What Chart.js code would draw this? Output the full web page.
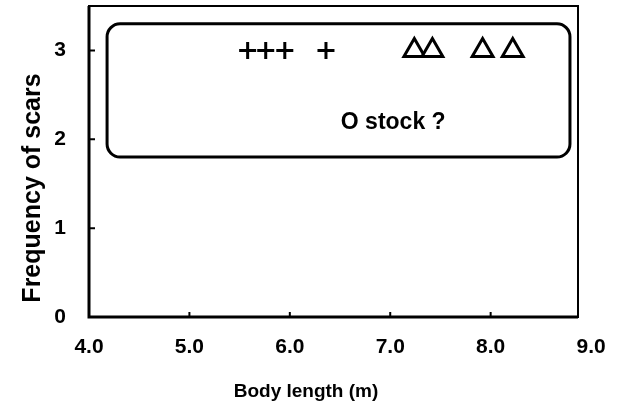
<!DOCTYPE html>
<html>
<head>
<meta charset="utf-8">
<script src="https://cdn.jsdelivr.net/npm/chart.js@4"></script>
<style>
  html, body { margin: 0; padding: 0; background: #fff; }
  #wrap { width: 621px; height: 407px; }
</style>
</head>
<body>
<div id="wrap"><canvas id="scarChart"></canvas></div>
<script>
// body length (m) of animals with 3 scars
const plusLengths = [5.58, 5.76, 5.95, 6.36];
const triangleLengths = [7.24, 7.42, 7.92, 8.22];
const scarFrequency = 3;

const xTickValues = [4, 5, 6, 7, 8, 9];
const yTickValues = [0, 1, 2, 3];

// group outline: [xMin, xMax, yMin, yMax] in data units
const stockBox = [4.18, 8.79, 1.8, 3.3];
const stockLabel = "O stock ?";
const stockLabelAt = [7.03, 2.19];

const FONT = "'Liberation Sans', Arial, sans-serif";

const framePlugin = {
  id: "frame",
  afterDatasetsDraw(chart) {
    const { ctx, chartArea: a, scales: { x, y } } = chart;
    ctx.save();
    ctx.strokeStyle = "#000";

    // thin top/right frame
    ctx.lineWidth = 2;
    ctx.strokeRect(a.left, a.top, a.right - a.left, a.bottom - a.top);
    // heavier axes
    ctx.lineWidth = 3;
    ctx.beginPath();
    ctx.moveTo(a.left, a.top);
    ctx.lineTo(a.left, a.bottom);
    ctx.lineTo(a.right, a.bottom);
    ctx.stroke();

    // inward tick marks
    ctx.lineWidth = 2;
    ctx.beginPath();
    xTickValues.forEach(v => {
      const px = x.getPixelForValue(v);
      if (px <= a.left + 2 || px >= a.right - 2) return;
      ctx.moveTo(px, a.bottom);
      ctx.lineTo(px, a.bottom - 5);
    });
    yTickValues.forEach(v => {
      const py = y.getPixelForValue(v);
      if (py >= a.bottom - 2) return;
      ctx.moveTo(a.left, py);
      ctx.lineTo(a.left + 6, py);
    });
    ctx.stroke();

    // rounded outline of the group
    const l = x.getPixelForValue(stockBox[0]);
    const r = x.getPixelForValue(stockBox[1]);
    const b = y.getPixelForValue(stockBox[2]);
    const t = y.getPixelForValue(stockBox[3]);
    ctx.lineWidth = 3;
    ctx.beginPath();
    ctx.roundRect(l, t, r - l, b - t, 13);
    ctx.stroke();

    ctx.fillStyle = "#000";
    ctx.font = "bold 23px " + FONT;
    ctx.textAlign = "center";
    ctx.textBaseline = "middle";
    ctx.fillText(stockLabel, x.getPixelForValue(stockLabelAt[0]), y.getPixelForValue(stockLabelAt[1]));

    // axis titles
    ctx.font = "bold 19px " + FONT;
    ctx.fillText("Body length (m)", 306, 392);
    ctx.font = "bold 25px " + FONT;
    ctx.translate(33, 188);
    ctx.rotate(-Math.PI / 2);
    ctx.fillText("Frequency of scars", 0, 0);
    ctx.restore();
  }
};

new Chart(document.getElementById("scarChart").getContext("2d"), {
  type: "scatter",
  data: {
    datasets: [
      {
        label: "plus",
        data: plusLengths.map(v => ({ x: v, y: scarFrequency })),
        pointStyle: "cross",
        pointRadius: 8.5,
        pointBorderWidth: 3,
        borderColor: "#000",
        backgroundColor: "#000"
      },
      {
        label: "triangle",
        data: triangleLengths.map(v => ({ x: v, y: scarFrequency })),
        pointStyle: "triangle",
        pointRadius: 12,
        pointBorderWidth: 3,
        borderColor: "#000",
        backgroundColor: "#fff"
      }
    ]
  },
  options: {
    responsive: true,
    maintainAspectRatio: false,
    animation: false,
    layout: { autoPadding: false, padding: { top: 6, right: 43, left: 0, bottom: 0 } },
    plugins: {
      legend: { display: false },
      tooltip: { enabled: false }
    },
    scales: {
      x: {
        type: "linear",
        min: 4,
        max: 8.87,
        border: { display: false },
        grid: { display: false },
        afterBuildTicks: scale => {
          scale.ticks = xTickValues.map(v => ({ value: v }));
        },
        afterFit: scale => {
          scale.height = 90;
          scale.paddingLeft = 0;
          scale.paddingRight = 0;
        },
        ticks: {
          padding: 10,
          maxRotation: 0,
          autoSkip: false,
          color: "#000",
          font: { family: FONT, size: 21, weight: "bold" },
          callback: v => v.toFixed(1)
        }
      },
      y: {
        min: 0,
        max: 3.5,
        border: { display: false },
        grid: { display: false },
        afterFit: scale => {
          scale.width = 89;
          scale.paddingTop = 0;
          scale.paddingBottom = 0;
        },
        ticks: {
          stepSize: 1,
          includeBounds: false,
          padding: 15,
          color: "#000",
          font: { family: FONT, size: 21, weight: "bold" }
        }
      }
    }
  },
  plugins: [framePlugin]
});
</script>
</body>
</html>
